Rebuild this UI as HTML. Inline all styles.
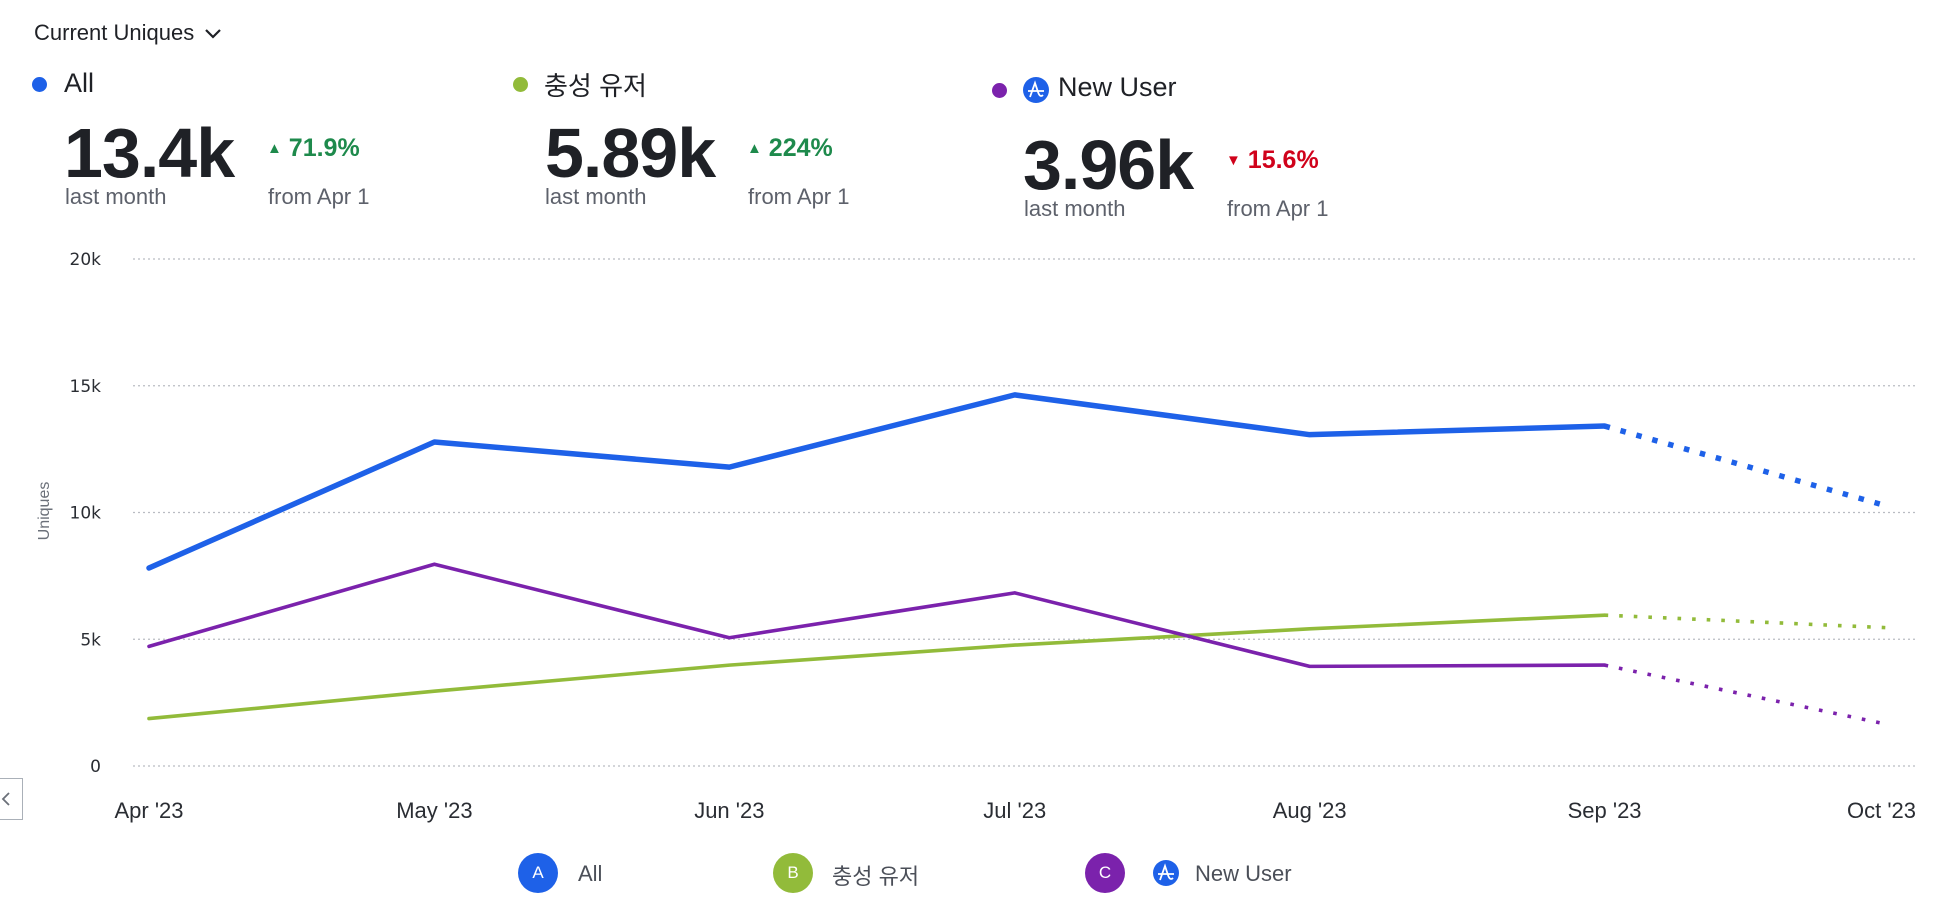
<!DOCTYPE html>
<html><head><meta charset="utf-8">
<style>
html,body{margin:0;padding:0;background:#fff;}
body{width:1942px;height:898px;position:relative;overflow:hidden;font-family:"Liberation Sans","Noto Sans CJK KR",sans-serif;color:#1f2126;}
.abs{position:absolute;white-space:nowrap;}
.dot{position:absolute;width:15px;height:15px;border-radius:50%;}
.big{font-size:70px;font-weight:bold;letter-spacing:-1px;line-height:1;}
.sub{font-size:22px;color:#5d616b;}
.chg{font-size:25px;font-weight:bold;}
</style></head><body>
<div class="abs" style="left:34px;top:20px;font-size:22px;">Current Uniques <svg width="18" height="12" viewBox="0 0 18 12" style="margin-left:4px"><path d="M2 2 L9 9 L16 2" fill="none" stroke="#1f2126" stroke-width="2.2"/></svg></div>

<!-- group A -->
<div class="dot" style="left:32px;top:77px;background:#1e61e8"></div>
<div class="abs" style="left:64px;top:68px;font-size:27px;">All</div>
<div class="abs big" style="left:64px;top:118px;">13.4k</div>
<div class="abs sub" style="left:65px;top:184px;">last month</div>
<div class="abs chg" style="left:267px;top:134px;color:#1e8a4c;"><span style="font-size:15px;vertical-align:3px">▲</span> 71.9%</div>
<div class="abs sub" style="left:268px;top:184px;">from Apr 1</div>

<!-- group B -->
<div class="dot" style="left:513px;top:77px;background:#92bb3a"></div>
<div class="abs" style="left:544px;top:66px;font-size:26px;">충성 유저</div>
<div class="abs big" style="left:545px;top:118px;">5.89k</div>
<div class="abs sub" style="left:545px;top:184px;">last month</div>
<div class="abs chg" style="left:747px;top:134px;color:#1e8a4c;"><span style="font-size:15px;vertical-align:3px">▲</span> 224%</div>
<div class="abs sub" style="left:748px;top:184px;">from Apr 1</div>

<!-- group C -->
<div class="dot" style="left:992px;top:83px;background:#7b22ac"></div>
<svg class="abs" style="left:1023px;top:77px" width="26" height="26" viewBox="0 0 26 26"><circle cx="13" cy="13" r="13" fill="#1e61e8"/><path d="M5 14 H21 M7 20 L12 6 L15 15 Q17 21 20 18" fill="none" stroke="#fff" stroke-width="1.8"/></svg>
<div class="abs" style="left:1058px;top:72px;font-size:27px;">New User</div>
<div class="abs big" style="left:1023px;top:130px;">3.96k</div>
<div class="abs sub" style="left:1024px;top:196px;">last month</div>
<div class="abs chg" style="left:1226px;top:146px;color:#d0021b;"><span style="font-size:15px;vertical-align:3px">▼</span> 15.6%</div>
<div class="abs sub" style="left:1227px;top:196px;">from Apr 1</div>

<div class="abs" style="left:-2px;top:778px;width:25px;height:42px;border:1.5px solid #aab0b8;box-sizing:border-box;"><svg width="20" height="40" viewBox="0 0 20 40"><path d="M10 14 L4 20 L10 26" fill="none" stroke="#6b7079" stroke-width="1.8"/></svg></div>

<svg id="chart" width="1942" height="898" style="position:absolute;left:0;top:0" xmlns="http://www.w3.org/2000/svg"></svg>

<!-- bottom legend -->
<div class="abs" style="left:518px;top:853px;height:40px;">
 <div style="position:absolute;left:0;top:0;width:40px;height:40px;border-radius:50%;background:#1e61e8;color:#fff;font-size:17px;text-align:center;line-height:40px;">A</div>
 <div style="position:absolute;left:60px;top:8px;font-size:22px;color:#4b4f58;">All</div>
</div>
<div class="abs" style="left:773px;top:853px;height:40px;">
 <div style="position:absolute;left:0;top:0;width:40px;height:40px;border-radius:50%;background:#92bb3a;color:#fff;font-size:17px;text-align:center;line-height:40px;">B</div>
 <div style="position:absolute;left:59px;top:6px;font-size:22px;color:#4b4f58;">충성 유저</div>
</div>
<div class="abs" style="left:1085px;top:853px;height:40px;">
 <div style="position:absolute;left:0;top:0;width:40px;height:40px;border-radius:50%;background:#7b22ac;color:#fff;font-size:17px;text-align:center;line-height:40px;">C</div>
 <svg style="position:absolute;left:68px;top:7px" width="26" height="26" viewBox="0 0 26 26"><circle cx="13" cy="13" r="13" fill="#1e61e8"/><path d="M5 14 H21 M7 20 L12 6 L15 15 Q17 21 20 18" fill="none" stroke="#fff" stroke-width="1.8"/></svg>
 <div style="position:absolute;left:110px;top:8px;font-size:22px;color:#4b4f58;">New User</div>
</div>

<script>
const categories = ["Apr '23","May '23","Jun '23","Jul '23","Aug '23","Sep '23","Oct '23"];
const dayOffsets = [0,30,61,91,122,153,183];
const allValues = [7810,12780,11790,14640,13070,13410,10220];
const loyalValues = [1870,2950,3980,4770,5410,5950,5450];
const newUserValues = [4720,7960,5060,6830,3930,3980,1620];
const yTicks = [0,5000,10000,15000,20000];
const yTickLabels = ["0","5k","10k","15k","20k"];

const NS="http://www.w3.org/2000/svg";
const svg=document.getElementById('chart');
const x0=149,x1=1890,y0=766,y1=259,gridL=133,gridR=1917;
function xs(d){return x0+(d-dayOffsets[0])/(dayOffsets[dayOffsets.length-1]-dayOffsets[0])*(x1-x0);}
function ys(v){return y0-(v/20000)*(y0-y1);}
function mk(tag,attrs){const e=document.createElementNS(NS,tag);for(const k in attrs)e.setAttribute(k,attrs[k]);svg.appendChild(e);return e;}

yTicks.forEach((t,i)=>{
  const g=mk('line',{x1:gridL,x2:gridR,y1:ys(t),y2:ys(t),stroke:'#b9bcc2','stroke-width':1.3,'stroke-dasharray':'2 3'});
  
  
  const tx=mk('text',{x:101,y:ys(t)+6,'text-anchor':'end','font-size':17,fill:'#2a2d33','font-family':'DejaVu Sans, sans-serif'});
  tx.textContent=yTickLabels[i];
  
  
});
const yt=mk('text',{x:0,y:0,transform:'translate(49,511) rotate(-90)','text-anchor':'middle','font-size':16,fill:'#6b7079','font-family':'Liberation Sans, sans-serif'});
yt.textContent='Uniques';



categories.forEach((c,i)=>{
  const last=i===categories.length-1;
  const tx=mk('text',{x:last?1916:xs(dayOffsets[i]),y:818,'text-anchor':last?'end':'middle','font-size':22,fill:'#2a2d33','font-family':'Liberation Sans, sans-serif'});
  tx.textContent=c;
  
  
});

function series(vals,color,w,name){
  const n=vals.length;
  let d='';
  for(let i=0;i<n-1;i++)d+=(i?'L':'M')+xs(dayOffsets[i])+' '+ys(vals[i])+' ';
  const p=mk('path',{d:d,fill:'none',stroke:color,'stroke-width':w,'stroke-linejoin':'round','stroke-linecap':'round'});
  
  
  const q=mk('line',{x1:xs(dayOffsets[n-2]),y1:ys(vals[n-2]),x2:xs(dayOffsets[n-1]),y2:ys(vals[n-1]),stroke:color,'stroke-width':w,'stroke-dasharray':w+' 11'});
  
  
}
series(loyalValues,'#92bb3a',3.6,'loyal');
series(newUserValues,'#7b22ac',3.6,'newuser');
series(allValues,'#1e61e8',5.5,'all');
</script>
</body></html>
